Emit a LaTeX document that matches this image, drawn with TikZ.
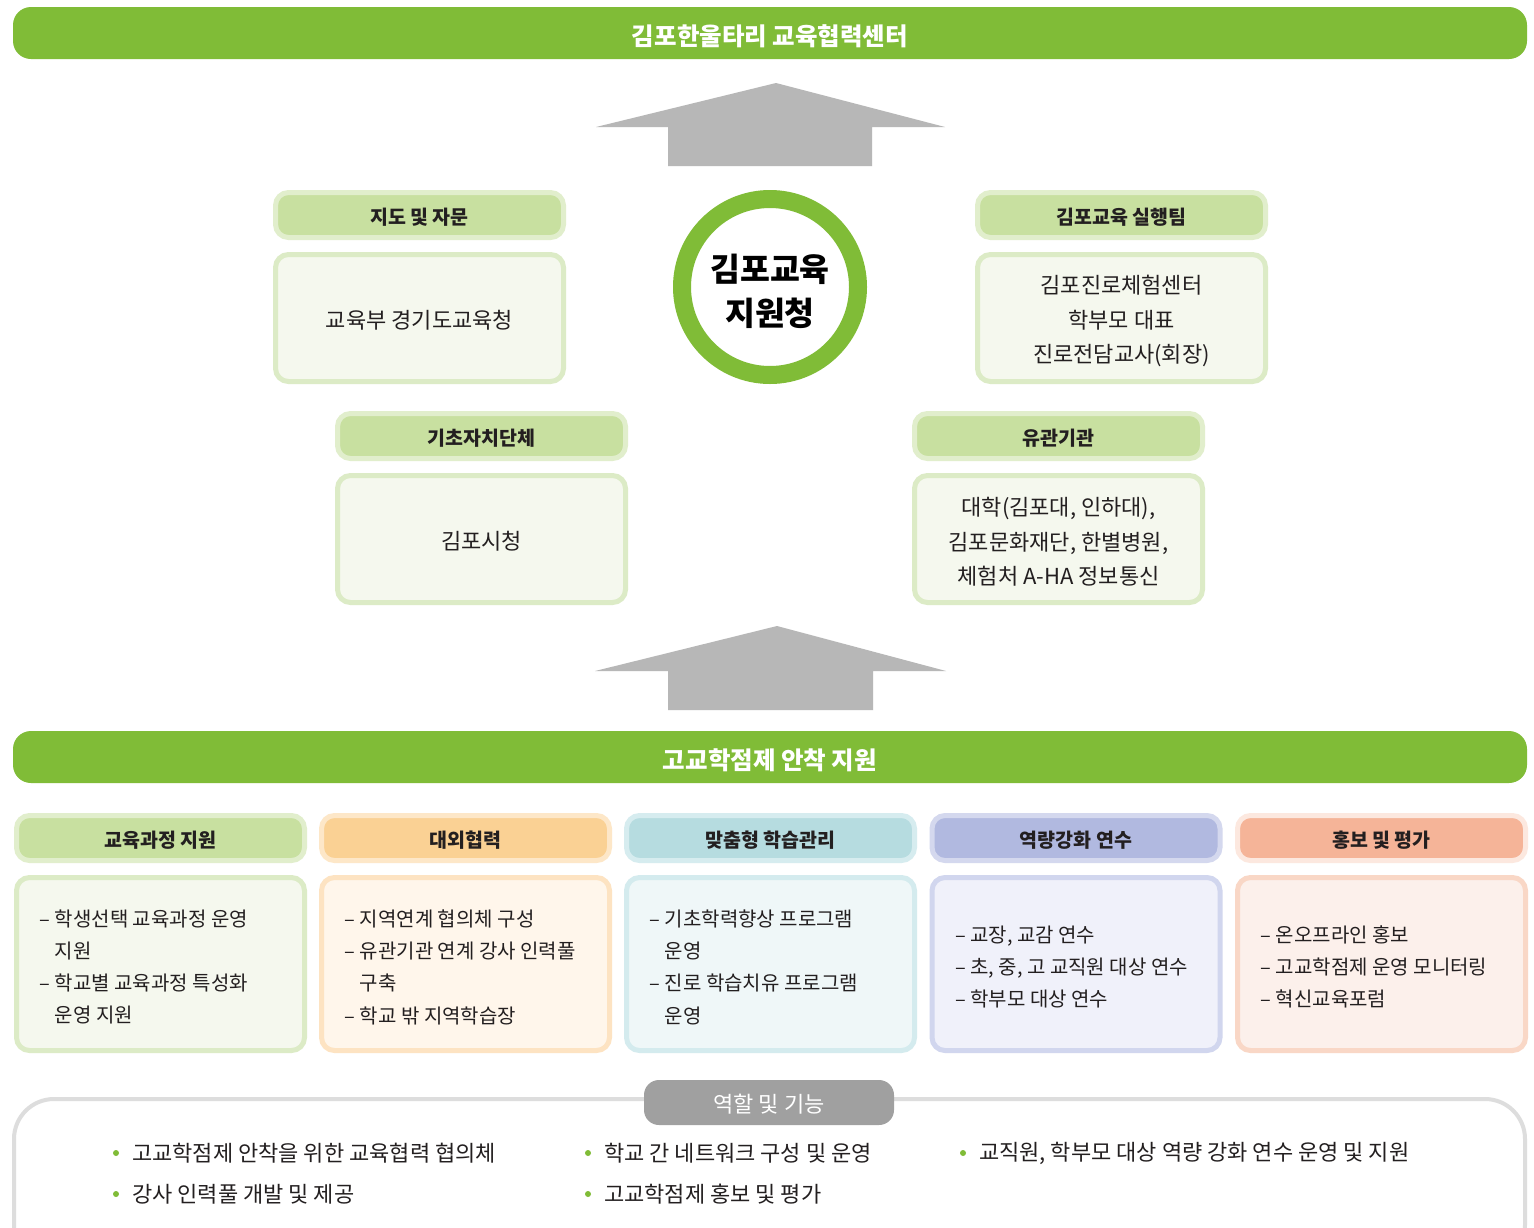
\documentclass[tikz,border=0pt]{standalone}
\usepackage{fontspec}
\setmainfont{Noto Sans CJK KR}
\usetikzlibrary{calc}
\pgfdeclarelayer{bg}
\pgfsetlayers{bg,main}
\definecolor{green}{HTML}{80BC37}
\definecolor{arrowgray}{HTML}{B7B7B7}
\definecolor{linegray}{HTML}{DDDDDD}
\definecolor{pillgray}{HTML}{A0A0A0}
\definecolor{txt}{HTML}{231F20}
\definecolor{ha}{HTML}{C8E0A0}\definecolor{hab}{HTML}{E1EECC}
\definecolor{ca}{HTML}{F5F8EE}\definecolor{cab}{HTML}{DCEBC6}
\definecolor{hb}{HTML}{FAD194}\definecolor{hbb}{HTML}{FDE7C8}
\definecolor{cb}{HTML}{FFF6EB}\definecolor{cbb}{HTML}{FDE3C2}
\definecolor{hc}{HTML}{B6DCE0}\definecolor{hcb}{HTML}{D6ECEF}
\definecolor{cc}{HTML}{EFF7F8}\definecolor{ccb}{HTML}{D4EBEE}
\definecolor{hd}{HTML}{B1B9E0}\definecolor{hdb}{HTML}{D4D8EE}
\definecolor{cd}{HTML}{F0F1FA}\definecolor{cdb}{HTML}{D1D6EE}
\definecolor{he}{HTML}{F5B498}\definecolor{heb}{HTML}{FCE8DF}
\definecolor{ce}{HTML}{FCF0EB}\definecolor{ceb}{HTML}{F9D7C6}
\begin{document}
\begin{tikzpicture}[x=1pt,y=-1pt,
  banner/.style={fill=green, rounded corners=18, minimum width=1514, minimum height=52, inner sep=0},
  bantxt/.style={inner sep=0, text=white, font=\fontsize{24.5}{30}\selectfont\bfseries},
  hdr/.style={rounded corners=13, line width=5, inner sep=0, minimum width=288, minimum height=45},
  hdrtxt/.style={inner sep=0, text=txt, font=\fontsize{19.5}{24}\selectfont\bfseries},
  cnt/.style={rounded corners=13, line width=5, inner sep=0, minimum width=288},
  bigtxt/.style={inner sep=0, align=center, text=txt, font=\fontsize{22}{34.5}\selectfont},
  coltxt/.style={anchor=west, inner sep=0, align=left, text=txt, font=\fontsize{20}{32.3}\selectfont},
  conn/.style={draw=linegray, line width=5},
  bul/.style={anchor=west, inner sep=0, text=txt, font=\fontsize{22}{26}\selectfont},
  dot/.style={circle, fill=green, inner sep=0, minimum size=6}
]
\useasboundingbox[fill=white] (0,0) rectangle (1534,1227);
\clip (0,0) rectangle (1534,1227);

% banners
\node[banner] (topban) at (770,33) {};
\node[bantxt] (topbant) at ([yshift=-3]topban.center) {김포한울타리 교육협력센터};
\node[banner] (midban) at (770,757) {};
\node[bantxt] (midbant) at ([yshift=-3]midban.center) {고교학점제 안착 지원};

% big arrows
\fill[arrowgray] (776,83) -- (945,127) -- (872,127) -- (872,166) -- (668,166) -- (668,127) -- (596,127) -- cycle;
\fill[arrowgray] (777,626) -- (946,671) -- (873,671) -- (873,710) -- (668,710) -- (668,671) -- (595,671) -- cycle;

% central circle
\node[circle, draw=green, line width=18, fill=white, minimum size=176, inner sep=0] (circ) at (770,287) {};
\node[inner sep=0, align=center, text=black, font=\fontsize{32.5}{44}\selectfont\bfseries] (circt) at ([yshift=-4]circ.center) {김포교육\\지원청};

% upper groups
\node[hdr, fill=ha, draw=hab] (lh1) at (419.5,215) {};
\node[hdrtxt] (lh1t) at ([yshift=-2.5]lh1.center) {지도 및 자문};
\node[cnt, fill=ca, draw=cab, minimum height=127] (lc1) at (419.5,318) {};
\node[bigtxt] (lc1t) at ([yshift=-2.5]lc1.center) {교육부 경기도교육청};

\node[hdr, fill=ha, draw=hab] (rh1) at (1121.5,215) {};
\node[hdrtxt] (rh1t) at ([yshift=-2.5]rh1.center) {김포교육 실행팀};
\node[cnt, fill=ca, draw=cab, minimum height=127] (rc1) at (1121.5,318) {};
\node[bigtxt] (rc1t) at ([yshift=-3]rc1.center) {김포진로체험센터\\학부모 대표\\진로전담교사(회장)};

\node[hdr, fill=ha, draw=hab] (lh2) at (481.5,436) {};
\node[hdrtxt] (lh2t) at ([yshift=-2.5]lh2.center) {기초자치단체};
\node[cnt, fill=ca, draw=cab, minimum height=127] (lc2) at (481.5,539) {};
\node[bigtxt] (lc2t) at ([yshift=-2.5]lc2.center) {김포시청};

\node[hdr, fill=ha, draw=hab] (rh2) at (1058.5,436) {};
\node[hdrtxt] (rh2t) at ([yshift=-2.5]rh2.center) {유관기관};
\node[cnt, fill=ca, draw=cab, minimum height=127] (rc2) at (1058.5,539) {};
\node[bigtxt] (rc2t) at ([yshift=-3]rc2.center) {대학(김포대, 인하대),\\김포문화재단, 한별병원,\\체험처 A-HA 정보통신};

\begin{pgfonlayer}{bg}
\draw[conn] (circ.center) -- (circ.center -| lc1.east);
\draw[conn] (circ.center) -- (circ.center -| rc1.west);
\draw[conn] (circ.center) -- ([xshift=-20]lh2.north east);
\draw[conn] (circ.center) -- ([xshift=21]rh2.north west);
\end{pgfonlayer}

% columns
\node[hdr, fill=ha, draw=hab] (h1) at (160.5,838) {};
\node[hdrtxt] (h1t) at ([yshift=-2.5]h1.center) {교육과정 지원};
\node[cnt, fill=ca, draw=cab, minimum height=173] (c1) at (160.5,964) {};
\node[coltxt] (t1) at ([xshift=25.5,yshift=-3]c1.west) {– 학생선택 교육과정 운영\\\phantom{– }지원\\– 학교별 교육과정 특성화\\\phantom{– }운영 지원};

\node[hdr, fill=hb, draw=hbb] (h2) at (465.5,838) {};
\node[hdrtxt] (h2t) at ([yshift=-2.5]h2.center) {대외협력};
\node[cnt, fill=cb, draw=cbb, minimum height=173] (c2) at (465.5,964) {};
\node[coltxt] (t2) at ([xshift=25.5,yshift=-3]c2.west) {– 지역연계 협의체 구성\\– 유관기관 연계 강사 인력풀\\\phantom{– }구축\\– 학교 밖 지역학습장};

\node[hdr, fill=hc, draw=hcb] (h3) at (770.5,838) {};
\node[hdrtxt] (h3t) at ([yshift=-2.5]h3.center) {맞춤형 학습관리};
\node[cnt, fill=cc, draw=ccb, minimum height=173] (c3) at (770.5,964) {};
\node[coltxt] (t3) at ([xshift=25.5,yshift=-3]c3.west) {– 기초학력향상 프로그램\\\phantom{– }운영\\– 진로 학습치유 프로그램\\\phantom{– }운영};

\node[hdr, fill=hd, draw=hdb] (h4) at (1076,838) {};
\node[hdrtxt] (h4t) at ([yshift=-2.5]h4.center) {역량강화 연수};
\node[cnt, fill=cd, draw=cdb, minimum height=173] (c4) at (1076,964) {};
\node[coltxt] (t4) at ([xshift=25.5,yshift=-3]c4.west) {– 교장, 교감 연수\\– 초, 중, 고 교직원 대상 연수\\– 학부모 대상 연수};

\node[hdr, fill=he, draw=heb] (h5) at (1381.5,838) {};
\node[hdrtxt] (h5t) at ([yshift=-2.5]h5.center) {홍보 및 평가};
\node[cnt, fill=ce, draw=ceb, minimum height=173] (c5) at (1381.5,964) {};
\node[coltxt] (t5) at ([xshift=25.5,yshift=-3]c5.west) {– 온오프라인 홍보\\– 고교학점제 운영 모니터링\\– 혁신교육포럼};

% roles box
\draw[draw=linegray, line width=4, rounded corners=40] (14,1099) rectangle (1525,1265);
\node[fill=pillgray, rounded corners=15, minimum width=250, minimum height=45, inner sep=0] (pill) at (769,1102.5) {};
\node[inner sep=0, text=white, font=\fontsize{22}{26}\selectfont] (pillt) at ([yshift=-2]pill.center) {역할 및 기능};

\node[bul] (b1) at (132,1153) {고교학점제 안착을 위한 교육협력 협의체};
\node[bul] (b2) at (132,1194) {강사 인력풀 개발 및 제공};
\node[bul] (b3) at (604,1153) {학교 간 네트워크 구성 및 운영};
\node[bul] (b4) at (604,1194) {고교학점제 홍보 및 평가};
\node[bul] (b5) at (979,1153) {교직원, 학부모 대상 역량 강화 연수 운영 및 지원};
\node[dot] (d1) at ([xshift=-16]b1.west) {};
\node[dot] (d2) at ([xshift=-16]b2.west) {};
\node[dot] (d3) at ([xshift=-16]b3.west) {};
\node[dot] (d4) at ([xshift=-16]b4.west) {};
\node[dot] (d5) at ([xshift=-16]b5.west) {};
\end{tikzpicture}
\end{document}
